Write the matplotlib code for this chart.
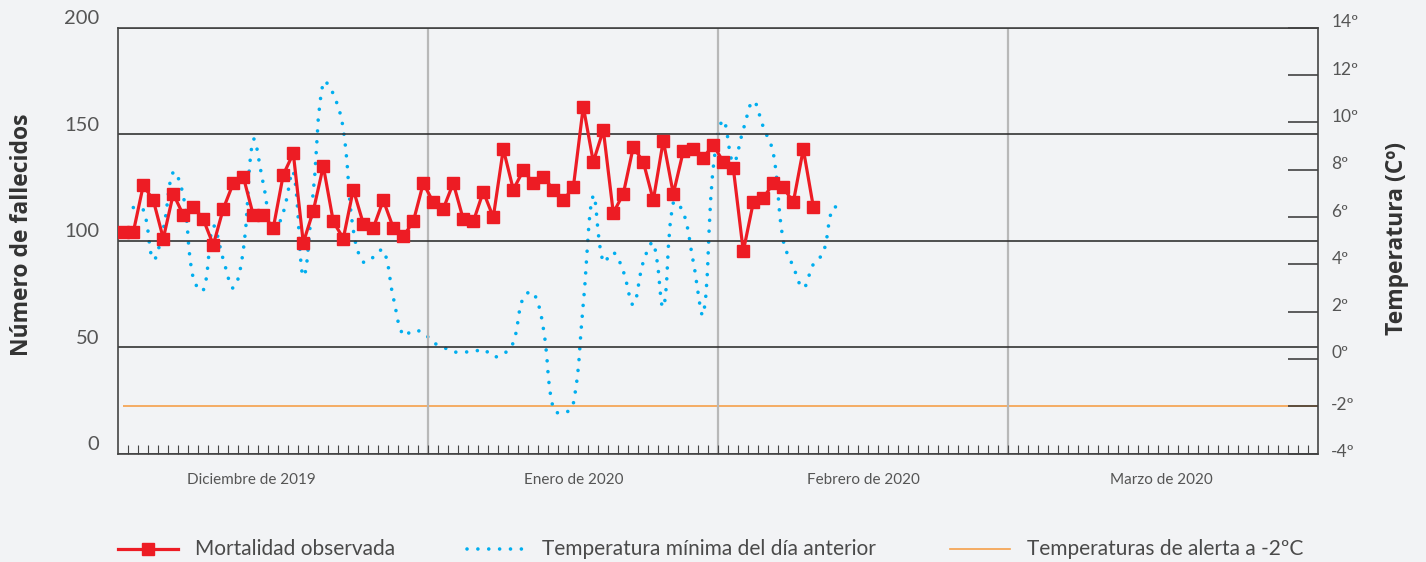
import matplotlib
matplotlib.use("Agg")
import matplotlib.pyplot as plt
import matplotlib.transforms as mtransforms
import numpy as np
from matplotlib.path import Path
from matplotlib.patches import PathPatch
from matplotlib.lines import Line2D

# data
mortalidad = [104, 104, 126, 119, 101, 122, 112, 116, 110, 98,
              115, 127, 130, 112, 112, 106, 131, 141, 99, 114,
              135, 109, 101, 124, 108, 106, 119, 106, 102, 109,
              127, 118, 115, 127, 110, 109, 123, 111, 143, 124,
              133, 127, 130, 124, 119, 125, 163, 137, 152, 113,
              122, 144, 137, 119, 147, 122, 142, 143, 139, 145,
              137, 134, 95, 118, 120, 127, 125, 118, 143, 116]
temp_min = [6.4, 6.3, 4.2, 5.5, 7.9, 6.9, 3.4, 2.9, 5.6, 4.2,
            3.0, 4.6, 9.25, 7.4, 5.4, 6.2, 7.9, 3.5, 7.1, 11.7,
            11.2, 9.7, 5.45, 4.1, 4.3, 4.6, 2.6, 1.0, 1.2, 1.1,
            0.7, 0.5, 0.3, 0.3, 0.3, 0.4, 0.1, 0.2, 0.7, 2.6,
            2.8, 1.3, -2.1, -2.3, -1.9, 2.35, 6.9, 4.1, 4.5, 3.7,
            2.3, 4.1, 4.9, 2.2, 6.6, 6.2, 4.1, 1.9, 8.1, 10.1,
            8.3, 9.7, 10.9, 9.8, 8.7, 5.0, 3.9, 3.0, 4.0, 4.5,
            6.4, 6.2]
temp_first_day = 1
alerta = -2

meses = ["Diciembre de 2019", "Enero de 2020", "Febrero de 2020", "Marzo de 2020"]
mes_limites = [31, 60, 89]
mes_label_x = [13.3, 45.5, 74.5, 104.3]
n_dias = 120

fall_ticks = [0, 50, 100, 150, 200]
temp_ticks = [-4, -2, 0, 2, 4, 6, 8, 10, 12, 14]

BG = "#f2f3f5"
RED = "#ed1c24"
BLUE = "#00aeef"
ORANGE = "#f5a04a"
TXT = "#4a4a4a"
plt.rcParams["font.family"] = ["Lato", "DejaVu Sans"]

W, H = 1426, 562
fig = plt.figure(figsize=(W / 100, H / 100), dpi=100, facecolor=BG)
ax = fig.add_axes([118.3 / W, 1 - 453.5 / H, 1200 / W, 425.7 / H])
ax2 = ax.twinx()
ax.set_zorder(ax2.get_zorder() + 1)
ax.patch.set_visible(False)
ax2.set_facecolor(BG)

ax.set_xlim(0, n_dias)
ax.set_ylim(0, 200)
ax2.set_ylim(-4, 14)

for s in ax.spines.values():
    s.set_color("#444444")
    s.set_linewidth(1.2)
for s in ax2.spines.values():
    s.set_visible(False)

# horizontal grid
ax.set_yticks(fall_ticks)
ax.yaxis.grid(True, color="#333333", lw=1.2)
ax.tick_params(axis="y", length=0, labelleft=False)

# day ticks
ax.set_xticks(np.arange(1, n_dias))
ax.tick_params(axis="x", direction="in", length=6.5, width=0.8, color="#444444", labelbottom=False)
for b in mes_limites:
    ax.axvline(b, color="#b8b8b8", lw=1.6, zorder=0.5)

ax2.set_yticks(temp_ticks)
ax2.tick_params(axis="y", direction="in", length=21.5, width=1.1, color="#333333", labelright=False)

# mortality
x_m = np.arange(len(mortalidad)) + 0.5
ax.plot(x_m, mortalidad, color=RED, lw=2.3, marker="s", ms=8.3, mec=RED, zorder=3)


# smooth dotted temperature line (spline with tension, like the original tool)
def smooth_path(xd, yd, trans, tension=0.4):
    pts = trans.transform(np.column_stack([xd, yd]))
    n = len(pts)
    cp_prev, cp_next = [], []
    for i in range(n):
        p0 = pts[max(i - 1, 0)]
        p1 = pts[i]
        p2 = pts[min(i + 1, n - 1)]
        d01 = np.hypot(*(p1 - p0))
        d12 = np.hypot(*(p2 - p1))
        tot = d01 + d12
        fa = tension * (d01 / tot if tot else 0)
        fb = tension * (d12 / tot if tot else 0)
        cp_prev.append(p1 - fa * (p2 - p0))
        cp_next.append(p1 + fb * (p2 - p0))
    verts = [pts[0]]
    codes = [Path.MOVETO]
    for i in range(n - 1):
        verts += [cp_next[i], cp_prev[i + 1], pts[i + 1]]
        codes += [Path.CURVE4] * 3
    verts = trans.inverted().transform(np.array(verts))
    return Path(verts, codes)


x_t = np.arange(len(temp_min)) + temp_first_day + 0.5
dots = (0, (0.01, 3.0))
ax2.add_patch(PathPatch(smooth_path(x_t, temp_min, ax2.transData), fill=False,
                        ec=BLUE, lw=2.6, linestyle=dots, capstyle="round", zorder=2))
ax2.hlines(alerta, 0.5, n_dias, color=ORANGE, lw=1.2, zorder=1)

# tick labels
left_tr = mtransforms.blended_transform_factory(ax.transAxes, ax.transData)
for v in fall_ticks:
    ax.text(0, v, str(v), transform=mtransforms.offset_copy(left_tr, fig=fig, x=-19, y=9, units="dots"),
            ha="right", va="center", fontsize=14.5, color="#555555")
right_tr = mtransforms.blended_transform_factory(ax2.transAxes, ax2.transData)
for t in temp_ticks:
    dy = 5.5 if t >= 0 else 1.5
    ax2.text(1, t, f"{t}º", transform=mtransforms.offset_copy(right_tr, fig=fig, x=13, y=dy, units="dots"),
             ha="left", va="center", fontsize=12.5, color="#555555")

bot_tr = mtransforms.blended_transform_factory(ax.transData, ax.transAxes)
for lab, xp in zip(meses, mes_label_x):
    ax.text(xp, -0.062, lab, transform=bot_tr, ha="center", va="center",
            fontsize=11, color="#555555")

fig.text(22 / W, 1 - 235 / H, "Número de fallecidos", rotation=90, ha="center", va="center",
         fontsize=16.5, fontweight="bold", color="#333333", family=["Open Sans", "DejaVu Sans"])
fig.text(1397 / W, 1 - 238 / H, "Temperatura (Cº)", rotation=90, ha="center", va="center",
         fontsize=16.5, fontweight="bold", color="#333333", family=["Open Sans", "DejaVu Sans"])


# legend
def fx(px):
    return px / W


def fy(py):
    return 1 - py / H


ly = 549
fig.add_artist(Line2D([fx(118), fx(178)], [fy(ly), fy(ly)], transform=fig.transFigure, color=RED, lw=2.3))
fig.add_artist(Line2D([fx(148)], [fy(ly)], transform=fig.transFigure, color=RED, marker="s", ms=8.3, lw=0))
fig.add_artist(Line2D([fx(467), fx(523)], [fy(ly), fy(ly)], transform=fig.transFigure, color=BLUE,
                      lw=2.6, linestyle=dots, dash_capstyle="round"))
fig.add_artist(Line2D([fx(950), fx(1010)], [fy(ly), fy(ly)], transform=fig.transFigure, color=ORANGE, lw=1.2))
for xp, lab in [(195, "Mortalidad observada"), (542, "Temperatura mínima del día anterior"),
                (1027, "Temperaturas de alerta a -2ºC")]:
    fig.text(fx(xp), fy(ly), lab, ha="left", va="center", fontsize=15, color=TXT)

fig.savefig("out.png", dpi=100, facecolor=BG)
